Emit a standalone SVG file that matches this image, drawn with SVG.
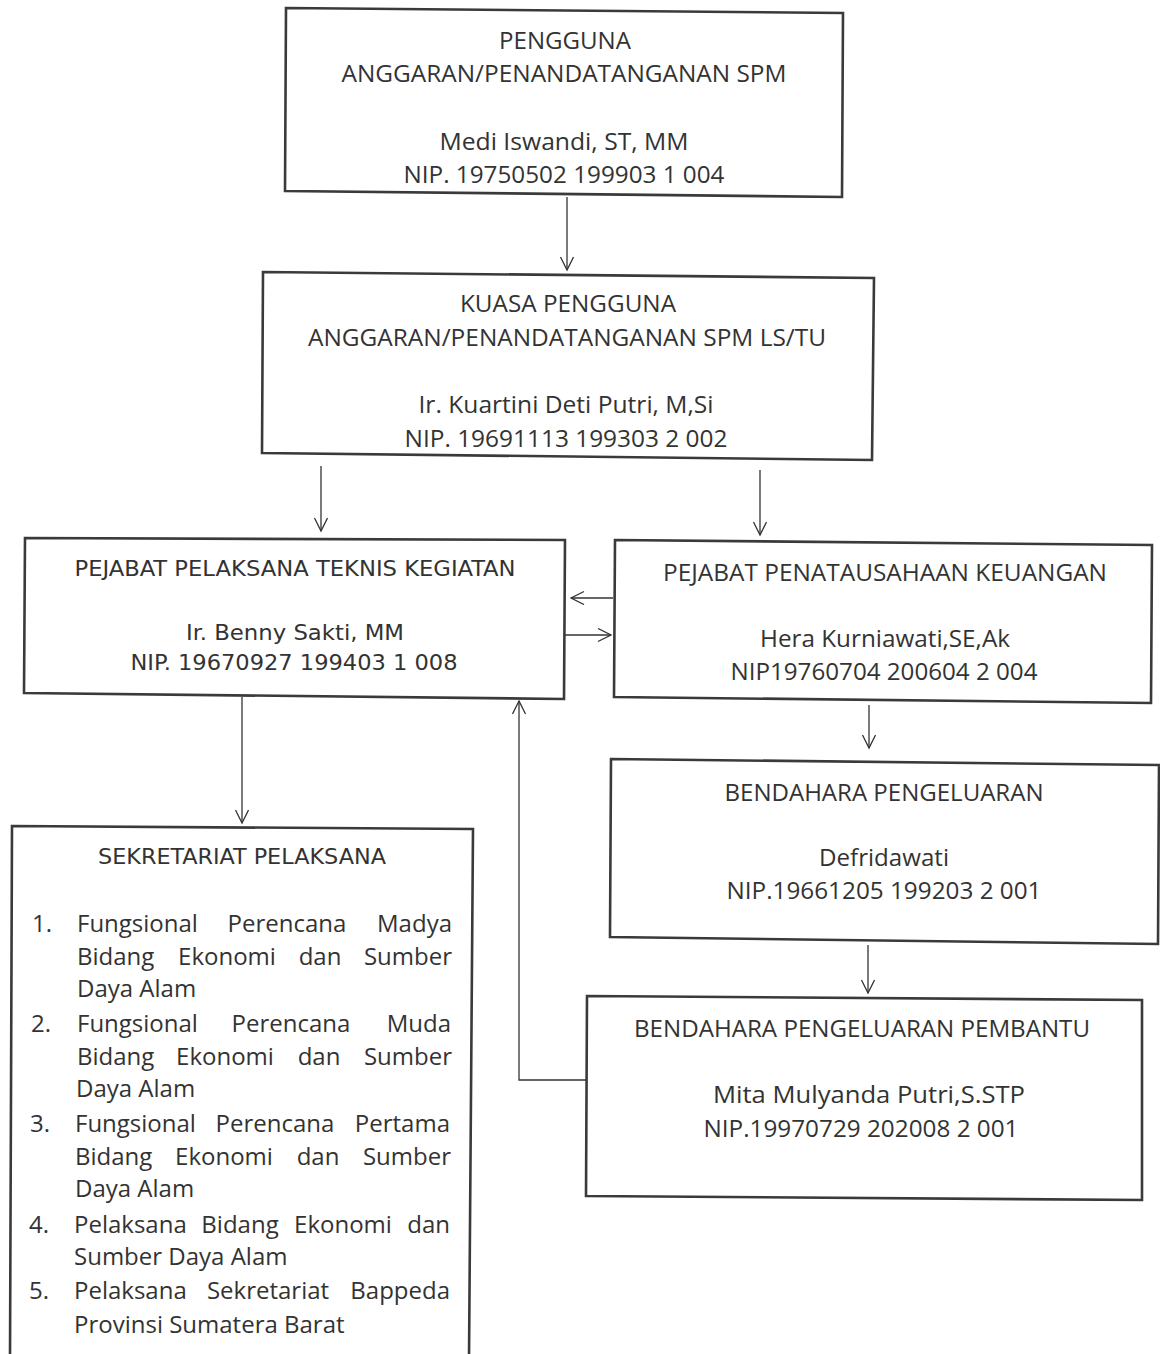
<svg xmlns="http://www.w3.org/2000/svg" width="1160" height="1354" viewBox="0 0 1160 1354">
  <defs>
    <marker id="arrow" markerWidth="16" markerHeight="16" refX="14" refY="7" orient="auto" markerUnits="userSpaceOnUse">
      <path d="M1,0.5 L14,7 L1,13.5" fill="none" stroke="#333" stroke-width="1.3"/>
    </marker>
  </defs>
  <style>
    .box { fill: #fff; stroke: #3a3a3a; stroke-width: 2.6; }
    .t { font-family: "Open Sans", "Noto Sans", sans-serif; font-size: 24px; fill: #333; text-anchor: middle; }
    .th { font-family: "DejaVu Sans Condensed", "DejaVu Sans", sans-serif; font-size: 22px; fill: #333; text-anchor: middle; }
    .l { font-family: "Open Sans", "Noto Sans", sans-serif; font-size: 24px; fill: #333; }
    .m { text-anchor: middle; }
    .e { text-anchor: end; }
    .conn { fill: none; stroke: #333; stroke-width: 1.3; }
  </style>
  <rect width="1160" height="1354" fill="#fff"/>

  <!-- connectors -->
  <g id="connectors">
    <line class="conn" x1="567" y1="197" x2="567" y2="270" marker-end="url(#arrow)"/>
    <line class="conn" x1="321" y1="466" x2="321" y2="531" marker-end="url(#arrow)"/>
    <line class="conn" x1="760" y1="470" x2="760" y2="535" marker-end="url(#arrow)"/>
    <line class="conn" x1="613" y1="598" x2="571" y2="598" marker-end="url(#arrow)"/>
    <line class="conn" x1="565" y1="635" x2="611" y2="635" marker-end="url(#arrow)"/>
    <line class="conn" x1="242" y1="697" x2="242" y2="823" marker-end="url(#arrow)"/>
    <line class="conn" x1="869" y1="705" x2="869" y2="748" marker-end="url(#arrow)"/>
    <line class="conn" x1="868" y1="945" x2="868" y2="993" marker-end="url(#arrow)"/>
    <polyline class="conn" points="587,1080 519,1080 519,701" marker-end="url(#arrow)"/>
  </g>

  <!-- Pengguna Anggaran -->
  <g id="pengguna-anggaran">
    <polygon class="box" points="286,8 843,13 842,197 285,191"/>
    <text class="t" x="565" y="49" textLength="132" lengthAdjust="spacingAndGlyphs">PENGGUNA</text>
    <text class="t" x="564" y="82" textLength="445" lengthAdjust="spacingAndGlyphs">ANGGARAN/PENANDATANGANAN SPM</text>
    <text class="t" x="564" y="150" textLength="249" lengthAdjust="spacingAndGlyphs">Medi Iswandi, ST, MM</text>
    <text class="t" x="564" y="183" textLength="321" lengthAdjust="spacingAndGlyphs">NIP. 19750502 199903 1 004</text>
  </g>

  <!-- Kuasa Pengguna Anggaran -->
  <g id="kuasa-pengguna-anggaran">
    <polygon class="box" points="263,272 874,278 872,460 262,453"/>
    <text class="t" x="568" y="312" textLength="216" lengthAdjust="spacingAndGlyphs">KUASA PENGGUNA</text>
    <text class="t" x="567" y="346" textLength="518" lengthAdjust="spacingAndGlyphs">ANGGARAN/PENANDATANGANAN SPM LS/TU</text>
    <text class="t" x="566" y="413" textLength="295" lengthAdjust="spacingAndGlyphs">Ir. Kuartini Deti Putri, M,Si</text>
    <text class="t" x="566" y="447" textLength="323" lengthAdjust="spacingAndGlyphs">NIP. 19691113 199303 2 002</text>
  </g>

  <!-- Pejabat Pelaksana Teknis Kegiatan -->
  <g id="pptk">
    <polygon class="box" points="25,538 565,540 564,699 24,693"/>
    <text class="th" x="295" y="576" textLength="441" lengthAdjust="spacingAndGlyphs">PEJABAT PELAKSANA TEKNIS KEGIATAN</text>
    <text class="th" x="295" y="640" textLength="218" lengthAdjust="spacingAndGlyphs">Ir. Benny Sakti, MM</text>
    <text class="th" x="294" y="670" textLength="327" lengthAdjust="spacingAndGlyphs">NIP. 19670927 199403 1 008</text>
  </g>

  <!-- Pejabat Penatausahaan Keuangan -->
  <g id="ppk">
    <polygon class="box" points="615,540 1152,545 1151,703 614,697"/>
    <text class="t" x="885" y="581" textLength="444" lengthAdjust="spacingAndGlyphs">PEJABAT PENATAUSAHAAN KEUANGAN</text>
    <text class="t" x="885" y="647" textLength="250" lengthAdjust="spacingAndGlyphs">Hera Kurniawati,SE,Ak</text>
    <text class="t" x="884" y="680" textLength="307" lengthAdjust="spacingAndGlyphs">NIP19760704 200604 2 004</text>
  </g>

  <!-- Bendahara Pengeluaran -->
  <g id="bendahara-pengeluaran">
    <polygon class="box" points="611,759 1159,765 1158,944 610,937"/>
    <text class="t" x="884" y="801" textLength="319" lengthAdjust="spacingAndGlyphs">BENDAHARA PENGELUARAN</text>
    <text class="t" x="884" y="866" textLength="130" lengthAdjust="spacingAndGlyphs">Defridawati</text>
    <text class="t" x="884" y="899" textLength="315" lengthAdjust="spacingAndGlyphs">NIP.19661205 199203 2 001</text>
  </g>

  <!-- Bendahara Pengeluaran Pembantu -->
  <g id="bendahara-pengeluaran-pembantu">
    <polygon class="box" points="587,996 1142,1000 1142,1200 586,1196"/>
    <text class="t" x="862" y="1037" textLength="456" lengthAdjust="spacingAndGlyphs">BENDAHARA PENGELUARAN PEMBANTU</text>
    <text class="t" x="869" y="1103" textLength="312" lengthAdjust="spacingAndGlyphs">Mita Mulyanda Putri,S.STP</text>
    <text class="t" x="861" y="1137" textLength="315" lengthAdjust="spacingAndGlyphs">NIP.19970729 202008 2 001</text>
  </g>

  <!-- Sekretariat Pelaksana -->
  <g id="sekretariat-pelaksana">
    <polygon class="box" points="12,826 473,829 469,1360 10,1360"/>
    <text class="th" x="242" y="864" textLength="288" lengthAdjust="spacingAndGlyphs">SEKRETARIAT PELAKSANA</text>

    <text class="l" x="32" y="932">1.</text>
    <text class="l" x="77" y="932">Fungsional</text>
    <text class="l m" x="287" y="932">Perencana</text>
    <text class="l e" x="452" y="932">Madya</text>
    <text class="l" x="77" y="965">Bidang</text>
    <text class="l m" x="227" y="965">Ekonomi</text>
    <text class="l m" x="320" y="965">dan</text>
    <text class="l e" x="452" y="965">Sumber</text>
    <text class="l" x="77" y="997">Daya Alam</text>

    <text class="l" x="31" y="1032">2.</text>
    <text class="l" x="77" y="1032">Fungsional</text>
    <text class="l m" x="291" y="1032">Perencana</text>
    <text class="l e" x="451" y="1032">Muda</text>
    <text class="l" x="77" y="1065">Bidang</text>
    <text class="l m" x="225" y="1065">Ekonomi</text>
    <text class="l m" x="319" y="1065">dan</text>
    <text class="l e" x="452" y="1065">Sumber</text>
    <text class="l" x="76" y="1097">Daya Alam</text>

    <text class="l" x="30" y="1132">3.</text>
    <text class="l" x="75" y="1132">Fungsional</text>
    <text class="l m" x="275" y="1132">Perencana</text>
    <text class="l e" x="450" y="1132">Pertama</text>
    <text class="l" x="75" y="1165">Bidang</text>
    <text class="l m" x="224" y="1165">Ekonomi</text>
    <text class="l m" x="318" y="1165">dan</text>
    <text class="l e" x="451" y="1165">Sumber</text>
    <text class="l" x="75" y="1197">Daya Alam</text>

    <text class="l" x="29" y="1233">4.</text>
    <text class="l" x="74" y="1233">Pelaksana</text>
    <text class="l m" x="240" y="1233">Bidang</text>
    <text class="l m" x="343" y="1233">Ekonomi</text>
    <text class="l e" x="450" y="1233">dan</text>
    <text class="l" x="74" y="1265">Sumber Daya Alam</text>

    <text class="l" x="29" y="1299">5.</text>
    <text class="l" x="74" y="1299">Pelaksana</text>
    <text class="l m" x="268" y="1299">Sekretariat</text>
    <text class="l e" x="450" y="1299">Bappeda</text>
    <text class="l" x="74" y="1333">Provinsi Sumatera Barat</text>
  </g>
</svg>
